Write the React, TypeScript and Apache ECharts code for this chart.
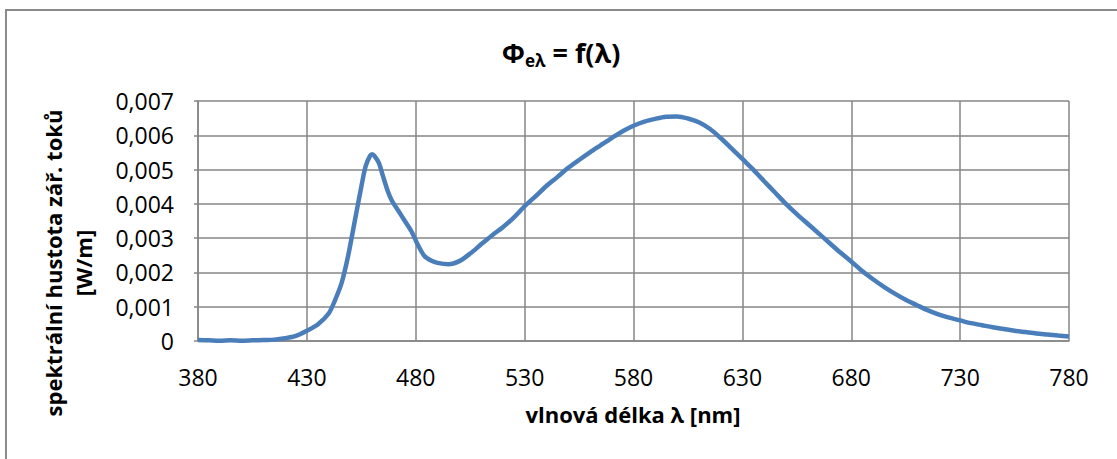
import React, { useEffect, useRef } from "react";
import * as echarts from "echarts";

const wavelengths: number[] = [
  380, 385, 390, 395, 400, 405, 410, 415, 420, 425, 430, 435, 440, 443, 446, 449,
  452, 455, 457, 459, 460, 461, 463, 465, 467, 469, 472, 475, 478, 481, 484, 487,
  490, 495, 500, 505, 510, 515, 520, 525, 530, 535, 540, 545, 550, 555, 560, 565,
  570, 575, 580, 585, 590, 595, 600, 605, 610, 615, 620, 625, 630, 635, 640, 645,
  650, 655, 660, 665, 670, 675, 680, 685, 690, 695, 700, 705, 710, 715, 720, 725,
  730, 735, 740, 745, 750, 755, 760, 765, 770, 775, 780,
];

const flux: number[] = [
  0.00003, 0.00002, 0.00001, 0.00002, 0.00001, 0.00002, 0.00003, 0.00004, 0.00008, 0.00015,
  0.0003, 0.00048, 0.0008, 0.0012, 0.0017, 0.0025, 0.0035, 0.0045, 0.0051, 0.0054,
  0.00545, 0.0054, 0.0052, 0.0048, 0.0044, 0.0041, 0.0038, 0.0035, 0.0032, 0.0028,
  0.00248, 0.00235, 0.00228, 0.00224, 0.00233, 0.00255, 0.00282, 0.00308, 0.00332, 0.0036,
  0.00393, 0.00422, 0.00452, 0.00478, 0.00505, 0.00528, 0.0055, 0.00571, 0.00592, 0.00612,
  0.00628, 0.0064, 0.00648, 0.00654, 0.00655, 0.00649, 0.00638, 0.00619, 0.00592, 0.00562,
  0.00531, 0.005, 0.00466, 0.00433, 0.004, 0.0037, 0.00342, 0.00314, 0.00286, 0.00258,
  0.00232, 0.00204, 0.0018, 0.00158, 0.00138, 0.0012, 0.00105, 0.0009, 0.00078, 0.00068,
  0.0006, 0.00052, 0.00046, 0.0004, 0.00035, 0.0003, 0.00026, 0.00022, 0.00019, 0.00016,
  0.00013,
];

const chartTitleMain = "Φ";
const chartTitleSub = "eλ";
const chartTitleRest = " = f(λ)";
const xAxisTitle = "vlnová délka λ [nm]";
const yAxisTitleLines = ["spektrální hustota zář. toků", "[W/m]"];

const FONT = "'Open Sans', 'Noto Sans', sans-serif";

export default function App() {
  const ref = useRef<HTMLDivElement>(null);

  useEffect(() => {
    document.body.style.margin = "0";
    if (!ref.current) return;
    const chart = echarts.init(ref.current, null, { renderer: "svg" });
    const data = wavelengths.map((w, i) => [w, flux[i]]);
    chart.setOption({
      animation: false,
      backgroundColor: "#ffffff",
      textStyle: { fontFamily: FONT },
      graphic: [
        {
          type: "rect",
          shape: { x: 6, y: 10, width: 1300, height: 600 },
          style: { fill: "none", stroke: "#8a8a8a", lineWidth: 2 },
          silent: true,
          z: -10,
        },
        {
          type: "text",
          x: 561,
          y: 52,
          style: {
            text: `{a|${chartTitleMain}}{b|${chartTitleSub}}{a|${chartTitleRest}}`,
            align: "center",
            verticalAlign: "middle",
            rich: {
              a: { fontFamily: FONT, fontSize: 27, fontWeight: "bold", fill: "#000", lineHeight: 34 },
              b: { fontFamily: FONT, fontSize: 17, fontWeight: "bold", fill: "#000", padding: [16, 0, 0, 0], lineHeight: 34 },
            },
          },
        },
        {
          type: "text",
          x: 633,
          y: 414,
          style: {
            text: xAxisTitle,
            align: "center",
            verticalAlign: "middle",
            fontFamily: FONT,
            fontSize: 22,
            fontWeight: "bold",
            fill: "#000",
          },
        },
        {
          type: "text",
          x: 68,
          y: 263,
          rotation: Math.PI / 2,
          style: {
            text: yAxisTitleLines.join("\n"),
            align: "center",
            verticalAlign: "middle",
            fontFamily: FONT,
            fontSize: 22,
            fontWeight: "bold",
            lineHeight: 30,
            fill: "#000",
          },
        },
      ],
      grid: { left: 198, right: 48, top: 101, bottom: 118 },
      xAxis: {
        type: "value",
        min: 380,
        max: 780,
        interval: 50,
        axisLine: { show: true, lineStyle: { color: "#868686", width: 1.5 } },
        axisTick: { show: false },
        axisLabel: { color: "#000", fontSize: 23, fontFamily: FONT, margin: 24 },
        splitLine: { show: true, lineStyle: { color: "#868686", width: 1.5 } },
      },
      yAxis: {
        type: "value",
        min: 0,
        max: 0.007,
        interval: 0.001,
        axisLine: { show: true, lineStyle: { color: "#868686", width: 1.5 } },
        axisTick: { show: true, length: 4, lineStyle: { color: "#868686", width: 1.5 } },
        axisLabel: {
          color: "#000",
          fontSize: 23,
          fontFamily: FONT,
          margin: 24,
          formatter: (v: number) => (v === 0 ? "0" : v.toFixed(3).replace(".", ",")),
        },
        splitLine: { show: true, lineStyle: { color: "#868686", width: 1.5 } },
      },
      series: [
        {
          type: "line",
          data,
          smooth: 0.3,
          showSymbol: false,
          lineStyle: { color: "#4a7ebb", width: 4.5 },
        },
      ],
    });
    return () => chart.dispose();
  }, []);

  return (
    <div
      ref={ref}
      style={{ position: "absolute", left: 0, top: 0, width: 1117, height: 459 }}
    />
  );
}
